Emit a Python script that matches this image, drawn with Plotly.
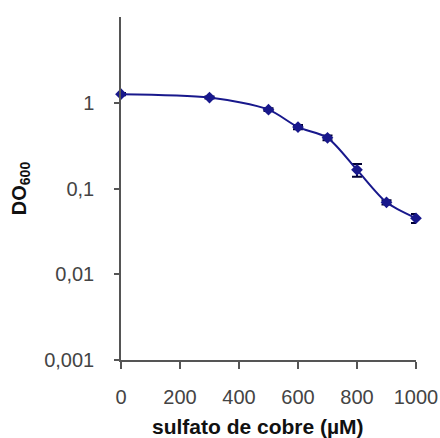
import plotly.graph_objects as go

copper_uM = [0, 300, 500, 600, 700, 800, 900, 1000]
od600 = [1.26, 1.15, 0.83, 0.52, 0.39, 0.165, 0.069, 0.045]
od_err = [0.04, 0.03, 0.03, 0.03, 0.025, 0.028, 0.004, 0.0055]

x_ticks = [0, 200, 400, 600, 800, 1000]
y_tickvals = [1, 0.1, 0.01, 0.001]
y_ticktext = ["1", "0,1", "0,01", "0,001"]

navy = "#18188c"
axis_col = "#555555"
tick_font = dict(family="Arial, Liberation Sans, sans-serif", size=20, color="#444444")

fig = go.Figure()
fig.add_trace(go.Scatter(
    x=copper_uM, y=od600,
    mode="lines+markers",
    line=dict(color=navy, width=2, shape="spline", smoothing=0.8),
    marker=dict(symbol="diamond", size=9, color=navy),
    error_y=dict(type="data", array=od_err, color="#000033", thickness=2, width=5),
    showlegend=False,
    cliponaxis=False,
))

fig.add_annotation(
    text="<b>sulfato de cobre (µM)</b>",
    xref="paper", yref="paper", x=0.464, y=0, yshift=-66,
    xanchor="center", yanchor="middle", showarrow=False,
    font=dict(family="Arial, Liberation Sans, sans-serif", size=21, color="#111111"),
)

fig.update_layout(
    width=440, height=438,
    margin=dict(l=121, r=24, t=17, b=78, autoexpand=False),
    paper_bgcolor="white", plot_bgcolor="white",
    font=dict(family="Arial, Liberation Sans, sans-serif", size=15, color="#333333"),
    xaxis=dict(
        range=[0, 1000], tickvals=x_ticks, showgrid=False, zeroline=False,
        showline=True, linecolor=axis_col, linewidth=1.5, automargin=False,
        ticks="outside", ticklen=7, tickcolor=axis_col, tickwidth=1.5,
        tickfont=tick_font, ticklabelstandoff=11, ticklabeloverflow="allow",
    ),
    yaxis=dict(
        type="log", range=[-3, 1], tickvals=y_tickvals, ticktext=y_ticktext,
        showgrid=False, zeroline=False, automargin=False,
        showline=True, linecolor=axis_col, linewidth=1.5,
        ticks="outside", ticklen=5, tickcolor=axis_col, tickwidth=1.5,
        tickfont=tick_font, ticklabelstandoff=16, ticklabeloverflow="allow",
        title=dict(text="<b>DO<sub>600</sub></b>",
                   font=dict(family="Arial, Liberation Sans, sans-serif", size=20, color="#111111"),
                   standoff=12),
    ),
)

fig.write_html(
    "out.html",
    config={"displayModeBar": False},
    post_script="document.body.style.margin='0';document.body.style.overflow='hidden';",
)
